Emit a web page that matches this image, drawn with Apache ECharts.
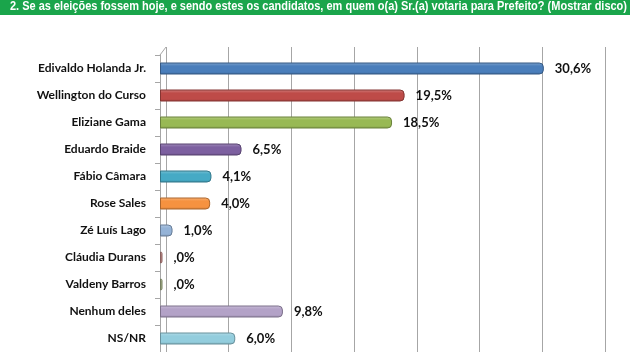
<!DOCTYPE html>
<html>
<head>
<meta charset="utf-8">
<script src="https://cdn.jsdelivr.net/npm/echarts@6/dist/echarts.min.js"></script>
<style>
  html, body { margin: 0; padding: 0; background: #fff; }
  #main { width: 630px; height: 352px; }
</style>
</head>
<body>
<div id="main"></div>
<script>
// Dados da pesquisa
var titulo = '2. Se as eleições fossem hoje, e sendo estes os candidatos, em quem o(a) Sr.(a) votaria para Prefeito? (Mostrar disco)';
var candidatos = ['Edivaldo Holanda Jr.', 'Wellington do Curso', 'Eliziane Gama', 'Eduardo Braide', 'Fábio Câmara',
    'Rose Sales', 'Zé Luís Lago', 'Cláudia Durans', 'Valdeny Barros', 'Nenhum deles', 'NS/NR'];
var valores = [30.6, 19.5, 18.5, 6.5, 4.1, 4.0, 1.0, 0.2, 0.2, 9.8, 6.0];
var rotulos = ['30,6%', '19,5%', '18,5%', '6,5%', '4,1%', '4,0%', '1,0%', ',0%', ',0%', '9,8%', '6,0%'];
var cores = ['#4a7ebb', '#be4b48', '#98b954', '#7d60a0', '#46aac5', '#f69240', '#95b3d7', '#c48a88', '#a8b58a', '#b3a2c7', '#93cddd'];

// mistura simples de cor com branco (f>0) ou preto (f<0)
function tom(hex, f) {
    var n = parseInt(hex.slice(1), 16);
    var rgb = [n >> 16 & 255, n >> 8 & 255, n & 255].map(function (c) {
        return Math.round(f > 0 ? c + (255 - c) * f : c * (1 + f));
    });
    return 'rgb(' + rgb.join(',') + ')';
}

// titulo condensado: mede a largura e comprime para caber
var fonteTitulo = 'bold 12px "Liberation Sans", Arial, sans-serif';
var ctx = document.createElement('canvas').getContext('2d');
ctx.font = fonteTitulo;
var escalaTitulo = 617 / ctx.measureText(titulo).width;

var grafico = echarts.init(document.getElementById('main'));

// Barras com aspecto de cilindro (gradiente vertical)
var dadosBarras = valores.map(function (v, i) {
    var c = cores[i];
    return {
        value: v,
        itemStyle: {
            color: new echarts.graphic.LinearGradient(0, 0, 0, 1, [
                { offset: 0, color: tom(c, 0.3) },
                { offset: 0.3, color: c },
                { offset: 0.8, color: c },
                { offset: 1, color: tom(c, -0.2) }
            ]),
            borderColor: tom(c, -0.3),
            borderWidth: 1,
            borderRadius: [0, 4, 4, 0]
        }
    };
});

var option = {
    animation: false,
    backgroundColor: '#fff',
    graphic: [{
        type: 'rect',
        shape: { x: 0, y: 0, width: 630, height: 15 },
        style: { fill: '#1aa54b' }
    }, {
        type: 'text',
        x: 10,
        y: 1,
        scaleX: escalaTitulo,
        style: {
            text: titulo,
            fill: '#fff',
            font: fonteTitulo
        }
    }, {
        // aresta superior do "3D"
        type: 'line',
        shape: { x1: 160, y1: 55, x2: 166, y2: 47 },
        style: { stroke: '#a6a6a6', lineWidth: 1 }
    }],
    grid: [{
        left: 160, top: 55, width: 439, height: 298
    }, {
        left: 166, top: 47, width: 439, height: 306
    }],
    xAxis: [{
        type: 'value', min: 0, max: 35, interval: 5, gridIndex: 0,
        show: false
    }, {
        type: 'value', min: 0, max: 35, interval: 5, gridIndex: 1,
        axisLabel: { show: false }, axisTick: { show: false }, axisLine: { show: false },
        splitLine: { show: true, lineStyle: { color: '#a6a6a6', width: 1 } }
    }],
    yAxis: [{
        type: 'category', inverse: true, data: candidatos, gridIndex: 0,
        axisLine: { show: true, lineStyle: { color: '#a6a6a6' } },
        axisTick: { show: true, length: 5, lineStyle: { color: '#a6a6a6' } },
        axisLabel: {
            margin: 14, color: '#111', fontWeight: 'bold', fontSize: 12,
            fontFamily: 'Lato, "Open Sans", sans-serif'
        }
    }, {
        type: 'category', gridIndex: 1, data: candidatos, show: false
    }],
    series: [{
        type: 'bar',
        xAxisIndex: 0, yAxisIndex: 0,
        barWidth: 12,
        data: dadosBarras,
        label: {
            show: true, position: 'right', distance: 11,
            color: '#111', fontWeight: 'bold', fontSize: 13,
            fontFamily: 'Lato, "Open Sans", sans-serif',
            formatter: function (p) { return rotulos[p.dataIndex]; }
        }
    }]
};

grafico.setOption(option);
</script>
</body>
</html>
